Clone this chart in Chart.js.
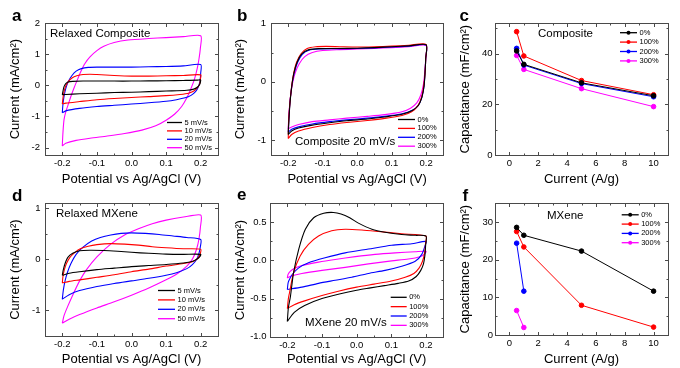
<!DOCTYPE html>
<html><head><meta charset="utf-8">
<script src="https://cdn.jsdelivr.net/npm/chart.js@4/dist/chart.umd.min.js"></script>
<style>
body{margin:0;background:#fff;}
#wrap{position:relative;width:680px;height:368px;}
#wrap canvas{position:absolute;left:0;top:0;}
</style></head>
<body><div id="wrap">
<canvas id="pa" width="680" height="368"></canvas>
<canvas id="pb" width="680" height="368"></canvas>
<canvas id="pc" width="680" height="368"></canvas>
<canvas id="pd" width="680" height="368"></canvas>
<canvas id="pe" width="680" height="368"></canvas>
<canvas id="pf" width="680" height="368"></canvas>
</div>
<script>
// ---------- tick values / labels ----------
const potentialTicks = [-0.2,-0.1,0,0.1,0.2];
const potentialTickLabels = ['-0.2','-0.1','0.0','0.1','0.2'];
const potentialMinor = [-0.15,-0.05,0.05,0.15];
const currentTicks = [0,2,4,6,8,10];
const currentTickLabels = ['0','2','4','6','8','10'];
const currentMinor = [1,3,5,7,9];
const aYTicks = [-2,-1,0,1,2], aYLabels = ['-2','-1','0','1','2'], aYMinor = [-1.5,-0.5,0.5,1.5];
const bYTicks = [-1,0,1], bYLabels = ['-1','0','1'], bYMinor = [-0.5,0.5];
const cYTicks = [0,20,40], cYLabels = ['0','20','40'], cYMinor = [10,30,50];
const dYTicks = [-1,0,1], dYLabels = ['-1','0','1'], dYMinor = [-0.5,0.5];
const eYTicks = [-1,-0.5,0,0.5], eYLabels = ['-1.0','-0.5','0.0','0.5'], eYMinor = [-0.75,-0.25,0.25];
const fYTicks = [0,10,20,30], fYLabels = ['0','10','20','30'], fYMinor = [5,15,25];

// ---------- legend labels ----------
const rateLabels = ['5 mV/s','10 mV/s','20 mV/s','50 mV/s'];
const strainLabels = ['0%','100%','200%','300%'];

// ---------- (a) Relaxed Composite, [potential V, current mA/cm2] ----------
const relaxedComposite5 = [[-0.2,-0.30],[-0.198,-0.18],[-0.195,-0.04],[-0.19,0.06],[-0.183,0.11],[-0.17,0.13],[-0.14,0.14],[-0.1,0.14],[-0.05,0.14],[0,0.14],[0.05,0.145],[0.1,0.15],[0.15,0.16],[0.19,0.17],[0.2,0.18],[0.199,0.1],[0.197,0.03],[0.19,-0.06],[0.18,-0.12],[0.16,-0.155],[0.1,-0.18],[0.05,-0.2],[0,-0.22],[-0.05,-0.23],[-0.1,-0.25],[-0.15,-0.27],[-0.19,-0.29],[-0.2,-0.30]];
const relaxedComposite10 = [[-0.2,-0.6],[-0.198,-0.4],[-0.195,-0.2],[-0.19,-0.02],[-0.183,0.12],[-0.172,0.24],[-0.158,0.31],[-0.14,0.35],[-0.12,0.36],[-0.1,0.35],[-0.05,0.32],[0,0.3],[0.05,0.3],[0.1,0.31],[0.15,0.32],[0.2,0.34],[0.199,0.2],[0.197,0.05],[0.19,-0.08],[0.18,-0.18],[0.165,-0.25],[0.14,-0.29],[0.1,-0.33],[0.05,-0.36],[0,-0.39],[-0.05,-0.42],[-0.1,-0.46],[-0.15,-0.52],[-0.19,-0.57],[-0.2,-0.6]];
const relaxedComposite20 = [[-0.2,-0.88],[-0.198,-0.6],[-0.195,-0.35],[-0.19,-0.1],[-0.183,0.12],[-0.172,0.32],[-0.16,0.46],[-0.145,0.54],[-0.125,0.58],[-0.1,0.59],[-0.05,0.59],[0,0.59],[0.05,0.6],[0.1,0.61],[0.15,0.63],[0.2,0.67],[0.2,0.4],[0.198,0.15],[0.193,-0.05],[0.185,-0.2],[0.172,-0.32],[0.155,-0.4],[0.13,-0.46],[0.1,-0.51],[0.05,-0.56],[0,-0.6],[-0.05,-0.64],[-0.1,-0.68],[-0.15,-0.74],[-0.19,-0.82],[-0.2,-0.88]];
const relaxedComposite50 = [[-0.2,-1.95],[-0.198,-1.5],[-0.195,-1.1],[-0.19,-0.85],[-0.184,-0.65],[-0.175,-0.35],[-0.165,-0.05],[-0.155,0.22],[-0.145,0.48],[-0.135,0.7],[-0.12,0.92],[-0.1,1.12],[-0.08,1.26],[-0.05,1.38],[-0.01,1.46],[0.05,1.51],[0.1,1.54],[0.15,1.57],[0.2,1.6],[0.199,1.2],[0.195,0.85],[0.19,0.55],[0.182,0.2],[0.172,-0.1],[0.16,-0.4],[0.145,-0.68],[0.125,-0.92],[0.1,-1.12],[0.07,-1.3],[0.03,-1.44],[-0.02,-1.55],[-0.07,-1.63],[-0.12,-1.7],[-0.16,-1.77],[-0.19,-1.86],[-0.2,-1.95]];

// ---------- (b) Composite 20 mV/s after strain cycles ----------
const composite0 = [[-0.2,-0.9],[-0.198,-0.65],[-0.195,-0.37],[-0.19,-0.09],[-0.184,0.14],[-0.174,0.34],[-0.16,0.48],[-0.14,0.55],[-0.11,0.567],[-0.06,0.57],[0,0.575],[0.05,0.585],[0.1,0.6],[0.15,0.615],[0.2,0.635],[0.199,0.4],[0.197,0.15],[0.194,-0.08],[0.188,-0.26],[0.178,-0.4],[0.16,-0.49],[0.13,-0.555],[0.08,-0.6],[0.03,-0.635],[-0.03,-0.665],[-0.08,-0.7],[-0.13,-0.74],[-0.17,-0.79],[-0.19,-0.84],[-0.2,-0.9]];
const composite100 = [[-0.2,-0.97],[-0.199,-0.7],[-0.196,-0.42],[-0.191,-0.12],[-0.185,0.12],[-0.176,0.33],[-0.163,0.48],[-0.145,0.57],[-0.12,0.6],[-0.09,0.605],[-0.05,0.6],[0,0.595],[0.05,0.6],[0.1,0.61],[0.15,0.625],[0.2,0.64],[0.199,0.4],[0.197,0.15],[0.193,-0.08],[0.187,-0.26],[0.176,-0.41],[0.158,-0.51],[0.13,-0.575],[0.08,-0.625],[0.03,-0.66],[-0.03,-0.695],[-0.08,-0.73],[-0.13,-0.78],[-0.17,-0.84],[-0.19,-0.9],[-0.2,-0.97]];
const composite200 = [[-0.2,-0.86],[-0.198,-0.62],[-0.195,-0.35],[-0.19,-0.08],[-0.183,0.14],[-0.173,0.33],[-0.159,0.47],[-0.14,0.54],[-0.11,0.56],[-0.06,0.565],[0,0.57],[0.05,0.58],[0.1,0.595],[0.15,0.61],[0.2,0.63],[0.199,0.4],[0.197,0.15],[0.194,-0.08],[0.188,-0.26],[0.178,-0.4],[0.16,-0.485],[0.13,-0.545],[0.08,-0.59],[0.03,-0.62],[-0.03,-0.65],[-0.08,-0.68],[-0.13,-0.72],[-0.17,-0.77],[-0.19,-0.81],[-0.2,-0.86]];
const composite300 = [[-0.2,-0.8],[-0.198,-0.55],[-0.194,-0.28],[-0.188,-0.04],[-0.18,0.15],[-0.168,0.31],[-0.152,0.43],[-0.13,0.5],[-0.1,0.535],[-0.05,0.55],[0,0.56],[0.05,0.57],[0.1,0.585],[0.15,0.6],[0.2,0.62],[0.199,0.4],[0.196,0.15],[0.192,-0.05],[0.185,-0.22],[0.173,-0.36],[0.155,-0.45],[0.13,-0.51],[0.08,-0.56],[0.03,-0.59],[-0.03,-0.62],[-0.08,-0.65],[-0.13,-0.68],[-0.17,-0.73],[-0.19,-0.77],[-0.2,-0.8]];

// ---------- (c) Composite capacitance ----------
const currentDensity = [0.5,1,5,10];
const compositeCap0 = [41.1,35.8,28.5,23.4];
const compositeCap100 = [48.7,39.1,29.4,23.8];
const compositeCap200 = [42.1,35.5,28.2,23.0];
const compositeCap300 = [39.3,33.8,26.2,19.1];

// ---------- (d) Relaxed MXene ----------
const relaxedMXene5 = [[-0.2,-0.31],[-0.197,-0.2],[-0.192,-0.08],[-0.184,0.04],[-0.17,0.12],[-0.15,0.17],[-0.12,0.18],[-0.08,0.175],[-0.04,0.16],[0,0.14],[0.05,0.12],[0.1,0.105],[0.15,0.1],[0.2,0.1],[0.198,0.06],[0.19,0.01],[0.175,-0.04],[0.15,-0.07],[0.1,-0.1],[0.05,-0.12],[0,-0.14],[-0.05,-0.17],[-0.1,-0.2],[-0.15,-0.24],[-0.18,-0.27],[-0.2,-0.31]];
const relaxedMXene10 = [[-0.2,-0.46],[-0.198,-0.33],[-0.194,-0.2],[-0.188,-0.08],[-0.178,0.04],[-0.165,0.13],[-0.148,0.21],[-0.125,0.26],[-0.1,0.29],[-0.06,0.31],[-0.02,0.3],[0.02,0.28],[0.06,0.25],[0.1,0.23],[0.15,0.21],[0.2,0.2],[0.199,0.12],[0.195,0.06],[0.188,0.0],[0.178,-0.04],[0.15,-0.08],[0.1,-0.13],[0.05,-0.19],[0,-0.24],[-0.05,-0.3],[-0.1,-0.35],[-0.15,-0.4],[-0.18,-0.43],[-0.2,-0.46]];
const relaxedMXene20 = [[-0.2,-0.78],[-0.197,-0.6],[-0.192,-0.42],[-0.185,-0.25],[-0.175,-0.08],[-0.16,0.1],[-0.14,0.24],[-0.115,0.36],[-0.09,0.43],[-0.06,0.48],[-0.03,0.51],[0,0.52],[0.04,0.51],[0.08,0.49],[0.12,0.46],[0.16,0.43],[0.2,0.39],[0.199,0.25],[0.195,0.12],[0.188,0.0],[0.176,-0.1],[0.16,-0.18],[0.13,-0.26],[0.1,-0.31],[0.05,-0.37],[0,-0.42],[-0.05,-0.47],[-0.1,-0.53],[-0.15,-0.61],[-0.18,-0.69],[-0.2,-0.78]];
const relaxedMXene50 = [[-0.2,-1.25],[-0.195,-1.1],[-0.185,-0.93],[-0.17,-0.7],[-0.15,-0.42],[-0.13,-0.2],[-0.1,0.05],[-0.06,0.3],[-0.02,0.48],[0.02,0.6],[0.06,0.7],[0.1,0.77],[0.15,0.83],[0.2,0.87],[0.199,0.62],[0.195,0.4],[0.188,0.2],[0.177,0.02],[0.16,-0.13],[0.13,-0.29],[0.1,-0.4],[0.05,-0.56],[0,-0.7],[-0.05,-0.83],[-0.1,-0.95],[-0.15,-1.08],[-0.18,-1.17],[-0.2,-1.25]];

// ---------- (e) MXene 20 mV/s after strain cycles ----------
const mxene0 = [[-0.2,-0.8],[-0.197,-0.62],[-0.191,-0.47],[-0.182,-0.16],[-0.167,0.15],[-0.148,0.41],[-0.124,0.56],[-0.095,0.62],[-0.067,0.63],[-0.045,0.61],[-0.02,0.56],[0.005,0.49],[0.044,0.41],[0.082,0.37],[0.13,0.34],[0.17,0.33],[0.2,0.32],[0.199,0.2],[0.197,0.07],[0.193,-0.04],[0.185,-0.13],[0.172,-0.21],[0.15,-0.27],[0.12,-0.3],[0.08,-0.33],[0.04,-0.36],[0,-0.39],[-0.05,-0.44],[-0.1,-0.5],[-0.15,-0.59],[-0.18,-0.68],[-0.2,-0.8]];
const mxene100 = [[-0.2,-0.63],[-0.197,-0.5],[-0.194,-0.43],[-0.182,-0.16],[-0.163,0.06],[-0.139,0.21],[-0.11,0.32],[-0.072,0.39],[-0.033,0.41],[0.015,0.4],[0.063,0.38],[0.13,0.35],[0.2,0.32],[0.199,0.23],[0.196,0.1],[0.19,-0.01],[0.18,-0.1],[0.165,-0.17],[0.14,-0.22],[0.1,-0.27],[0.05,-0.31],[0,-0.35],[-0.05,-0.4],[-0.1,-0.46],[-0.15,-0.53],[-0.18,-0.58],[-0.2,-0.63]];
const mxene200 = [[-0.2,-0.38],[-0.198,-0.3],[-0.196,-0.27],[-0.187,-0.19],[-0.168,-0.1],[-0.139,-0.03],[-0.091,0.035],[-0.033,0.1],[0.034,0.15],[0.101,0.2],[0.159,0.22],[0.2,0.25],[0.197,0.19],[0.188,0.08],[0.169,-0.01],[0.13,-0.075],[0.082,-0.13],[0.034,-0.17],[-0.014,-0.22],[-0.062,-0.26],[-0.11,-0.3],[-0.158,-0.35],[-0.2,-0.38]];
const mxene300 = [[-0.2,-0.23],[-0.198,-0.185],[-0.191,-0.14],[-0.177,-0.1],[-0.158,-0.066],[-0.11,-0.022],[-0.062,0.013],[-0.004,0.05],[0.053,0.08],[0.111,0.1],[0.169,0.115],[0.2,0.12],[0.195,0.08],[0.183,0.05],[0.149,0.02],[0.101,-0.005],[0.034,-0.045],[-0.033,-0.09],[-0.1,-0.13],[-0.158,-0.17],[-0.187,-0.2],[-0.2,-0.23]];

// ---------- (f) MXene capacitance ----------
const mxeneCap0 = [28.6,26.5,22.3,11.65];
const mxeneCap100 = [27.5,23.4,7.9,2.1];
const mxeneCap200 = [24.4,11.65];
const mxeneCap300 = [6.5,2.0];

// ---------- drawing ----------
Chart.defaults.font.family = 'Arial, "Liberation Sans", Helvetica, sans-serif';
Chart.defaults.color = '#000';
const W = 680, H = 368;
const COLORS = ['#000000','#ff0000','#0000ff','#ff00ff'];
const FONT = 'Arial, "Liberation Sans", Helvetica, sans-serif';

function cvSet(label, pts, color){
  return {label, data: pts.map(p => ({x:p[0], y:p[1]})), borderColor:color, backgroundColor:color,
          borderWidth:1.1, pointRadius:0, showLine:true, tension:0.25, fill:false};
}
function capSet(label, xs, ys, color){
  return {label, data: ys.map((v,i) => ({x:xs[i], y:v})), borderColor:color, backgroundColor:color,
          borderWidth:1, pointRadius:2.3, pointHoverRadius:2.3, showLine:true, tension:0, marker:true};
}

function framePlugin(p){
  return {
    id: 'frame_' + p.letter,
    afterDraw(chart){
      const ctx = chart.ctx;
      const {left:L, right:R, top:T, bottom:B} = chart.chartArea;
      const xs = chart.scales.x, ys = chart.scales.y;
      const r = v => Math.round(v) + 0.5;
      ctx.save();
      ctx.strokeStyle = '#4a4a4a';
      ctx.lineWidth = 1;
      ctx.strokeRect(r(L), r(T), Math.round(R) - Math.round(L), Math.round(B) - Math.round(T));
      const seg = (x1,y1,x2,y2) => { ctx.beginPath(); ctx.moveTo(x1,y1); ctx.lineTo(x2,y2); ctx.stroke(); };
      const xt = (vals, len) => vals.forEach(v => { const q = r(xs.getPixelForValue(v)); seg(q, r(B), q, r(B)-len); seg(q, r(T), q, r(T)+len); });
      const yt = (vals, len) => vals.forEach(v => { const q = r(ys.getPixelForValue(v)); seg(r(L), q, r(L)+len, q); seg(r(R), q, r(R)-len, q); });
      xt(p.xTicks, 3.5); xt(p.xMinor, 2);
      yt(p.yTicks, 3.5); yt(p.yMinor, 2);
      // panel letter
      ctx.fillStyle = '#000';
      ctx.font = 'bold 17px ' + FONT;
      ctx.textBaseline = 'alphabetic'; ctx.textAlign = 'left';
      ctx.fillText(p.letter, p.letterX, p.letterY);
      // note
      ctx.font = '11.5px ' + FONT;
      ctx.textBaseline = 'middle';
      ctx.fillText(p.note, p.noteX, p.noteY);
      // legend
      const lg = p.legend;
      ctx.font = '7.5px ' + FONT;
      chart.data.datasets.forEach((ds, i) => {
        const y = lg.y0 + i * lg.step;
        ctx.strokeStyle = ds.borderColor; ctx.lineWidth = 1.3;
        seg(lg.x, y, lg.x + lg.len, y);
        if (ds.marker){
          ctx.fillStyle = ds.borderColor;
          ctx.beginPath(); ctx.arc(lg.x + lg.len/2, y, 2, 0, Math.PI*2); ctx.fill();
        }
        ctx.fillStyle = '#000';
        ctx.fillText(ds.label, lg.x + lg.len + 2.5, y);
      });
      ctx.restore();
    }
  };
}

function makePanel(id, p){
  const half = 13 * 1.2 / 2;
  const padL = p.yTitleX - half;
  const padB = H - (p.xTitleY + half);
  return new Chart(document.getElementById(id), {
    type: 'scatter',
    data: {datasets: p.datasets},
    options: {
      responsive: false, animation: false, events: [],
      layout: {padding: {left: padL, top: p.T, right: W - p.R, bottom: padB}},
      plugins: {legend: {display: false}, tooltip: {enabled: false}},
      scales: {
        x: {type: 'linear', position: 'bottom', min: p.xMin, max: p.xMax,
            grid: {display: false, drawTicks: false}, border: {display: false},
            afterBuildTicks: s => { s.ticks = p.xTicks.map(v => ({value: v})); },
            afterFit: s => { s.height = p.xTitleY + half - p.B; },
            ticks: {autoSkip: false, maxRotation: 0, minRotation: 0, padding: 3, font: {size: 9.5}, color: '#000',
                    callback: (v, i) => p.xLabels[i]},
            title: {display: true, text: p.xTitle, font: {size: 13}, color: '#000', padding: 0}},
        y: {type: 'linear', position: 'left', min: p.yMin, max: p.yMax,
            grid: {display: false, drawTicks: false}, border: {display: false},
            afterBuildTicks: s => { s.ticks = p.yTicks.map(v => ({value: v})); },
            afterFit: s => { s.width = p.L - padL; },
            ticks: {autoSkip: false, padding: p.yPad, font: {size: 9.5}, color: '#000',
                    callback: (v, i) => p.yLabels[i]},
            title: {display: true, text: p.yTitle, font: {size: 13}, color: '#000', padding: 0}}
      }
    },
    plugins: [framePlugin(p)]
  });
}

const potTitle = 'Potential vs Ag/AgCl (V)';
const curTitle = 'Current (mA/cm\u00B2)';
const capTitle = 'Capacitance (mF/cm\u00B2)';
const ampTitle = 'Current (A/g)';

makePanel('pa', {
  letter:'a', letterX:12, letterY:21, note:'Relaxed Composite', noteX:50, noteY:34,
  L:45, R:218, T:23.3, B:155, yTitleX:15, xTitleY:179.5, yPad:5,
  xMin:-0.25, xMax:0.25, xTicks:potentialTicks, xLabels:potentialTickLabels, xMinor:potentialMinor,
  yMin:-2.24, yMax:2, yTicks:aYTicks, yLabels:aYLabels, yMinor:aYMinor,
  xTitle:potTitle, yTitle:curTitle,
  legend:{x:167, len:15, y0:122.5, step:8.4},
  datasets:[cvSet(rateLabels[0], relaxedComposite5, COLORS[0]), cvSet(rateLabels[1], relaxedComposite10, COLORS[1]),
            cvSet(rateLabels[2], relaxedComposite20, COLORS[2]), cvSet(rateLabels[3], relaxedComposite50, COLORS[3])]
});
makePanel('pb', {
  letter:'b', letterX:237, letterY:21, note:'Composite 20 mV/s', noteX:295, noteY:142,
  L:271, R:443.3, T:23.3, B:155, yTitleX:240.5, xTitleY:179.5, yPad:5,
  xMin:-0.25, xMax:0.25, xTicks:potentialTicks, xLabels:potentialTickLabels, xMinor:potentialMinor,
  yMin:-1.25, yMax:1, yTicks:bYTicks, yLabels:bYLabels, yMinor:bYMinor,
  xTitle:potTitle, yTitle:curTitle,
  legend:{x:398, len:17, y0:119.5, step:8.9},
  datasets:[cvSet(strainLabels[0], composite0, COLORS[0]), cvSet(strainLabels[1], composite100, COLORS[1]),
            cvSet(strainLabels[2], composite200, COLORS[2]), cvSet(strainLabels[3], composite300, COLORS[3])]
});
makePanel('pc', {
  letter:'c', letterX:459.5, letterY:21, note:'Composite', noteX:538, noteY:34.3,
  L:495, R:668, T:23.3, B:155, yTitleX:465.3, xTitleY:179.5, yPad:2.5,
  xMin:-1, xMax:11, xTicks:currentTicks, xLabels:currentTickLabels, xMinor:currentMinor,
  yMin:0, yMax:52, yTicks:cYTicks, yLabels:cYLabels, yMinor:cYMinor,
  xTitle:ampTitle, yTitle:capTitle,
  legend:{x:620, len:17, y0:32.7, step:9.4},
  datasets:[capSet(strainLabels[0], currentDensity, compositeCap0, COLORS[0]), capSet(strainLabels[1], currentDensity, compositeCap100, COLORS[1]),
            capSet(strainLabels[2], currentDensity, compositeCap200, COLORS[2]), capSet(strainLabels[3], currentDensity, compositeCap300, COLORS[3])]
});
makePanel('pd', {
  letter:'d', letterX:12, letterY:201, note:'Relaxed MXene', noteX:56, noteY:214,
  L:45, R:218, T:203.3, B:336, yTitleX:15, xTitleY:359, yPad:4.5,
  xMin:-0.25, xMax:0.25, xTicks:potentialTicks, xLabels:potentialTickLabels, xMinor:potentialMinor,
  yMin:-1.5, yMax:1.1, yTicks:dYTicks, yLabels:dYLabels, yMinor:dYMinor,
  xTitle:potTitle, yTitle:curTitle,
  legend:{x:158, len:17, y0:290.5, step:9.4},
  datasets:[cvSet(rateLabels[0], relaxedMXene5, COLORS[0]), cvSet(rateLabels[1], relaxedMXene10, COLORS[1]),
            cvSet(rateLabels[2], relaxedMXene20, COLORS[2]), cvSet(rateLabels[3], relaxedMXene50, COLORS[3])]
});
makePanel('pe', {
  letter:'e', letterX:237, letterY:200, note:'MXene 20 mV/s', noteX:305, noteY:322.7,
  L:270, R:443.3, T:203.3, B:336.7, yTitleX:240, xTitleY:359, yPad:3.5,
  xMin:-0.25, xMax:0.25, xTicks:potentialTicks, xLabels:potentialTickLabels, xMinor:potentialMinor,
  yMin:-1.0, yMax:0.75, yTicks:eYTicks, yLabels:eYLabels, yMinor:eYMinor,
  xTitle:potTitle, yTitle:curTitle,
  legend:{x:390.7, len:16, y0:297.3, step:9.35},
  datasets:[cvSet(strainLabels[0], mxene0, COLORS[0]), cvSet(strainLabels[1], mxene100, COLORS[1]),
            cvSet(strainLabels[2], mxene200, COLORS[2]), cvSet(strainLabels[3], mxene300, COLORS[3])]
});
makePanel('pf', {
  letter:'f', letterX:462.5, letterY:201, note:'MXene', noteX:547, noteY:215.7,
  L:495, R:668, T:203.3, B:335, yTitleX:465, xTitleY:359, yPad:2,
  xMin:-1, xMax:11, xTicks:currentTicks, xLabels:currentTickLabels, xMinor:currentMinor,
  yMin:0, yMax:35, yTicks:fYTicks, yLabels:fYLabels, yMinor:fYMinor,
  xTitle:ampTitle, yTitle:capTitle,
  legend:{x:621.7, len:17, y0:214.8, step:9.3},
  datasets:[capSet(strainLabels[0], currentDensity, mxeneCap0, COLORS[0]), capSet(strainLabels[1], currentDensity, mxeneCap100, COLORS[1]),
            capSet(strainLabels[2], currentDensity.slice(0,2), mxeneCap200, COLORS[2]), capSet(strainLabels[3], currentDensity.slice(0,2), mxeneCap300, COLORS[3])]
});
</script>
</body></html>
